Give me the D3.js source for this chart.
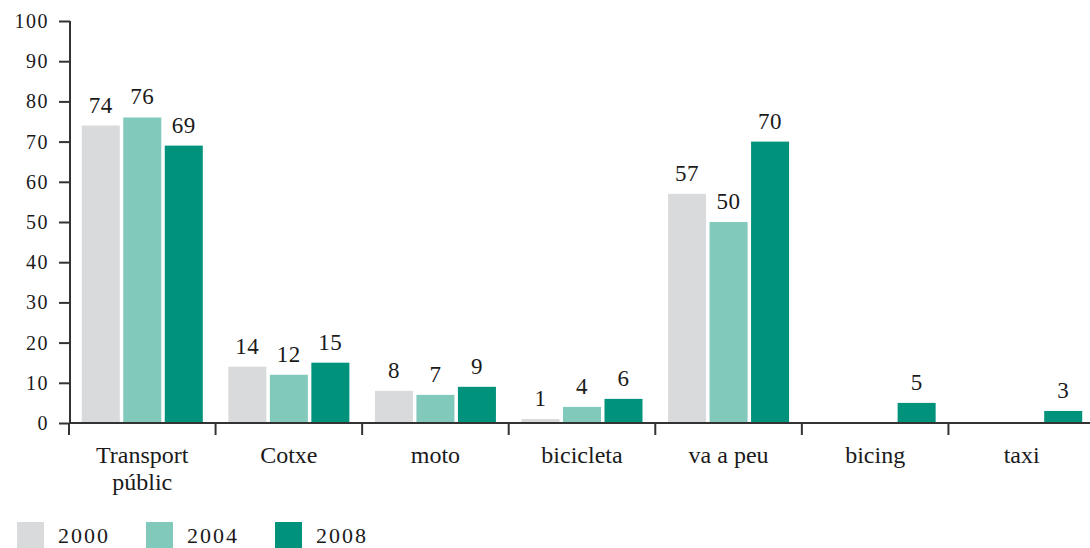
<!DOCTYPE html>
<html><head><meta charset="utf-8">
<script src="https://cdn.jsdelivr.net/npm/d3@7"></script>
<style>
body{margin:0;background:#fff;}
text{font-family:"Liberation Serif","DejaVu Serif",serif;fill:#1a1a1a;}
</style></head>
<body><svg id="c" width="1090" height="548"></svg>
<script>
const categories = ["Transport públic","Cotxe","moto","bicicleta","va a peu","bicing","taxi"];
const series = ["2000","2004","2008"];
const values2000 = [74,14,8,1,57,null,null];
const values2004 = [76,12,7,4,50,null,null];
const values2008 = [69,15,9,6,70,5,3];
const yTicks = [0,10,20,30,40,50,60,70,80,90,100];
const colors = ["#d9dadb","#81c9bb","#00927b"];

const svg = d3.select("#c");
const seriesVals = [values2000, values2004, values2008];

const y = d3.scaleLinear().domain([0,100]).range([423,21]);
const x0 = d3.scaleBand().domain(categories).range([69,1095]).paddingInner(0).paddingOuter(0);
const x1 = d3.scaleBand().domain(series).range([0,x0.bandwidth()]).paddingInner(0.084).paddingOuter(0.308);

// bars
categories.forEach((c,i)=>{
  series.forEach((s,j)=>{
    const v = seriesVals[j][i];
    if(v==null) return;
    const bx = x0(c)+x1(s);
    svg.append("rect").attr("x",bx).attr("y",y(v)).attr("width",x1.bandwidth())
      .attr("height",y(0)-y(v)).attr("fill",colors[j]);
    svg.append("text").attr("x",bx+x1.bandwidth()/2).attr("y",y(v)-13)
      .attr("text-anchor","middle").attr("font-size",23).attr("letter-spacing",0.5).text(v);
  });
});

// y axis
const yAxis = d3.axisLeft(y).tickValues(yTicks).tickSize(11).tickPadding(10);
const gy = svg.append("g").attr("transform","translate(70,0)").call(yAxis);
gy.select(".domain").attr("stroke","#333").attr("stroke-width",2).attr("d","M0,21V423");
gy.selectAll(".tick line").attr("stroke","#333").attr("stroke-width",2);
gy.selectAll(".tick text").attr("font-size",20).attr("fill","#1a1a1a").attr("letter-spacing",1.5)
  .attr("font-family",'"Liberation Serif",serif');

// x axis
svg.append("line").attr("x1",69).attr("x2",1090).attr("y1",423).attr("y2",423)
  .attr("stroke","#333").attr("stroke-width",2);
const bounds = categories.map(c=>x0(c));
svg.selectAll(".xt").data(bounds).join("line")
  .attr("x1",d=>d).attr("x2",d=>d).attr("y1",423).attr("y2",435)
  .attr("stroke","#333").attr("stroke-width",2);

categories.forEach(c=>{
  const cx = x0(c)+x0.bandwidth()/2;
  const parts = c==="Transport públic" ? ["Transport","públic"] : [c];
  parts.forEach((p,k)=>{
    svg.append("text").attr("x",cx).attr("y",463+k*27).attr("text-anchor","middle")
      .attr("font-size",24).text(p);
  });
});

// legend
const legX = [17,146,275];
series.forEach((s,j)=>{
  svg.append("rect").attr("x",legX[j]).attr("y",522).attr("width",27).attr("height",27).attr("fill",colors[j]);
  svg.append("text").attr("x",legX[j]+41).attr("y",543).attr("font-size",22).attr("letter-spacing",2).text(s);
});
</script></body></html>
